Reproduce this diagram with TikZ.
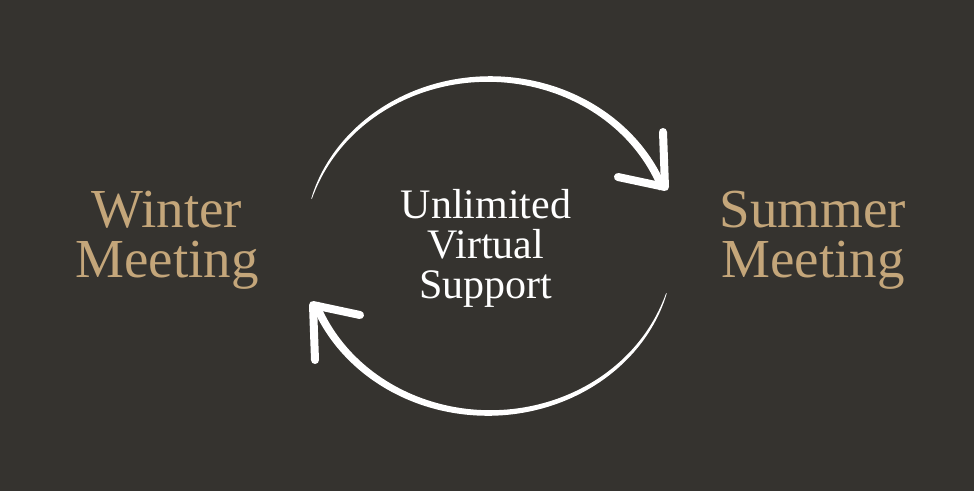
\documentclass[tikz,border=0pt]{standalone}
\usepackage{fontspec}
\setmainfont{Liberation Serif}
\usepackage{xcolor}
\definecolor{bgdark}{RGB}{53,51,47}
\definecolor{gold}{RGB}{196,166,122}

\begin{document}
\begin{tikzpicture}[x=1pt,y=-1pt,
  side/.style={text=gold,align=center,inner sep=0pt,font=\fontsize{55}{50}\selectfont},
  hub/.style={text=white,align=center,inner sep=0pt,font=\fontsize{42}{40}\selectfont},
  tip/.style={white,line width=8pt,line cap=round,line join=round}]
  % Background
  \fill[bgdark] (0,0) rectangle (974,491);
  % Cycle arrows (tapered arc + open head), second one turned half round
  \foreach \turn in {0,180}{
    \begin{scope}[rotate around={\turn:(489,246)}]
      \fill[white] plot[domain=0.01:1,samples=90]
          ({489+(185+4*\x^0.55)*cos(165-145*\x)},{246-(167+4*\x^0.55)*sin(165-145*\x)})
        -- plot[domain=1:0.01,samples=90]
          ({489+(185-4*\x^0.55)*cos(165-145*\x)},{246-(167-4*\x^0.55)*sin(165-145*\x)})
        -- cycle;
      \draw[tip] (663,132) -- (665,187) -- (618,177);
    \end{scope}
  }
  % Labels
  \node[side] (winter) at (167,240) {Winter\\Meeting};
  \node[side] (summer) at (813,240) {Summer\\Meeting};
  \node[hub]  (hub)    at (486,248) {Unlimited\\Virtual\\Support};
\end{tikzpicture}
\end{document}
